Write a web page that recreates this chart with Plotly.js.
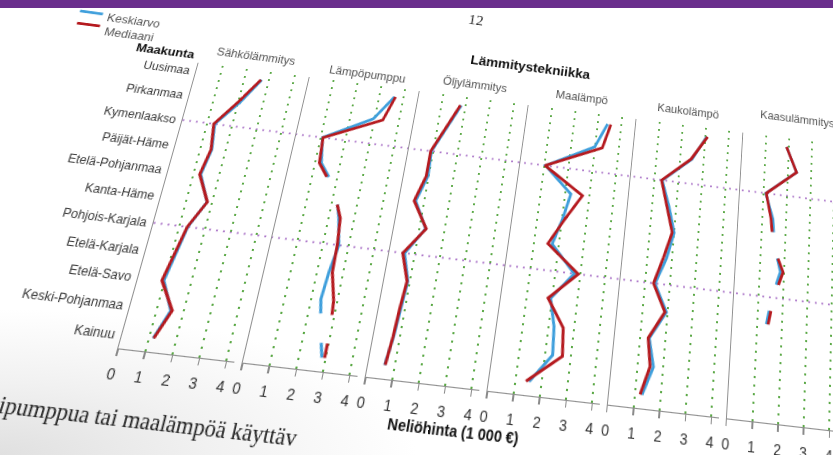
<!DOCTYPE html>
<html><head><meta charset="utf-8">
<script src="https://cdn.plot.ly/plotly-3.0.1.min.js"></script>
<style>
html,body{margin:0;padding:0;width:833px;height:455px;overflow:hidden;background:#fff;}
#bg{position:absolute;left:0;top:0;width:833px;height:455px;background:radial-gradient(ellipse 50% 32% at 0% 100%, #e0e0e0 0%, #f1f1f1 50%, rgba(255,255,255,0) 100%);}
#chart{position:absolute;left:0;top:0;width:950px;height:550px;transform-origin:0 0;}
#bar{position:absolute;left:0;top:0;width:833px;height:8px;background:#6a2e8c;}
</style></head><body>
<div id="bg"></div>
<div id="chart"></div>
<div id="bar"></div>
<script>
// ---------- data ----------
const regions = ['Uusimaa','Pirkanmaa','Kymenlaakso','Päijät-Häme','Etelä-Pohjanmaa','Kanta-Häme','Pohjois-Karjala','Etelä-Karjala','Etelä-Savo','Keski-Pohjanmaa','Kainuu'];
const heatTypes = ['Sähkölämmitys','Lämpöpumppu','Öljylämmitys','Maalämpö','Kaukolämpö','Kaasulämmitys'];
const xTicks = [0,1,2,3,4];
const seriesNames = ['Keskiarvo','Mediaani'];

const meanSahko   = [2.70,2.08,1.30,1.45,1.28,1.80,1.32,1.15,0.97,1.52,1.15];
const medianSahko = [2.67,2.00,1.26,1.42,1.24,1.81,1.30,1.11,0.90,1.57,1.17];

const meanLampopumppu   = [3.62,2.94,1.07,1.25,2.07,2.39,2.61,2.45,2.36,2.57,2.85];
const medianLampopumppu = [3.66,3.33,1.09,1.17,1.99,2.45,2.55,2.58,2.85,2.95,2.95];
const shownLampopumppu  = [1,1,1,1,0,1,1,1,1,0,1];

const meanOljy   = [1.82,1.38,0.93,0.97,0.66,1.25,0.60,0.92,0.83,0.76,0.62];
const medianOljy = [1.78,1.34,0.90,0.90,0.60,1.27,0.53,0.89,0.80,0.74,0.64];

const meanMaalampo   = [3.41,2.98,1.05,2.23,2.02,1.73,2.75,1.94,2.21,2.29,1.52];
const medianMaalampo = [3.55,3.30,1.03,2.71,2.11,1.56,2.91,1.84,2.57,2.67,1.40];

const meanKaukolampo   = [3.05,2.50,1.33,1.70,2.00,1.78,1.40,1.95,1.36,1.62,1.27];
const medianKaukolampo = [3.09,2.46,1.30,1.62,1.92,1.65,1.34,1.89,1.32,1.49,1.20];

const meanKaasu   = [1.90,2.37,1.10,1.45,1.55,1.85,1.55,1.37,null,null,null];
const medianKaasu = [1.90,2.37,1.12,1.37,1.50,1.96,1.62,1.44,null,null,null];
const shownKaasu  = [1,1,1,1,0,1,0,1,0,0,0];

// ---------- layout geometry (unskewed page) ----------
const DIVW=950, DIVH=550, ML=200, MR=38, MT=140, MB=120;
const PW=DIVW-ML-MR, PH=DIVH-MT-MB;
const XMAX=4.3, GAP=0.3;
const TOT=6*XMAX+5*GAP, DW=XMAX/TOT, DP=(XMAX+GAP)/TOT;
const YR=[10.47,-0.37];

// photo perspective: homography from page to screen
function solveH(src,dst){
  const A=[],b=[];
  for(let i=0;i<4;i++){const [x,y]=src[i],[X,Y]=dst[i];
    A.push([x,y,1,0,0,0,-x*X,-y*X]);b.push(X);
    A.push([0,0,0,x,y,1,-x*Y,-y*Y]);b.push(Y);}
  const n=8;
  for(let c=0;c<n;c++){let p=c;for(let r=c+1;r<n;r++)if(Math.abs(A[r][c])>Math.abs(A[p][c]))p=r;
    [A[c],A[p]]=[A[p],A[c]];[b[c],b[p]]=[b[p],b[c]];
    for(let r=0;r<n;r++){if(r===c)continue;const f=A[r][c]/A[c][c];for(let k=c;k<n;k++)A[r][k]-=f*A[c][k];b[r]-=f*b[c];}}
  const h=b.map((v,i)=>v/A[i][i]);
  return [[h[0],h[1],h[2]],[h[3],h[4],h[5]],[h[6],h[7],1]];
}
function inv3(m){const [a,b,c]=m[0],[d,e,f]=m[1],[g,h,i]=m[2];
  const A=e*i-f*h,B=-(d*i-f*g),C=d*h-e*g,D=-(b*i-c*h),E=a*i-c*g,F=-(a*h-b*g),G=b*f-c*e,Hh=-(a*f-c*d),I=a*e-b*d;
  const det=a*A+b*B+c*C;
  return [[A/det,D/det,G/det],[B/det,E/det,Hh/det],[C/det,F/det,I/det]];}
function applyH(m,x,y){const w=m[2][0]*x+m[2][1]*y+m[2][2];return [(m[0][0]*x+m[0][1]*y+m[0][2])/w,(m[1][0]*x+m[1][1]*y+m[1][2])/w];}

const kyFrac=(2-YR[1])/(YR[0]-YR[1]);
const uKy=MT+kyFrac*PH, uBot=MT+PH, u6=ML+5*DP*PW;
const H=solveH([[ML,uKy],[ML,uBot],[u6,uBot],[u6,uKy]],
               [[182.5,120],[118.3,348.3],[726.7,418.3],[739.8,190]]);
const Hi=inv3(H);
function scr(X,Y){const [ux,uy]=applyH(Hi,X,Y);return [(ux-ML)/PW,(MT+PH-uy)/PH];}

// ---------- traces ----------
const panels=[
  {mean:meanSahko,median:medianSahko,shown:null},
  {mean:meanLampopumppu,median:medianLampopumppu,shown:shownLampopumppu},
  {mean:meanOljy,median:medianOljy,shown:null},
  {mean:meanMaalampo,median:medianMaalampo,shown:null},
  {mean:meanKaukolampo,median:medianKaukolampo,shown:null},
  {mean:meanKaasu,median:medianKaasu,shown:shownKaasu}
];
function pieces(vals,shown){
  const xs=[],ys=[],n=vals.length;
  const has=i=>i>=0&&i<n&&vals[i]!=null;
  const vis=i=>has(i)&&(!shown||shown[i]===1);
  for(let i=0;i<n;i++){
    if(!vis(i))continue;
    if(has(i-1)&&!vis(i-1)){xs.push((vals[i-1]+vals[i])/2);ys.push(i-0.5);}
    xs.push(vals[i]);ys.push(i);
    if(has(i+1)&&!vis(i+1)){xs.push((vals[i]+vals[i+1])/2);ys.push(i+0.5);xs.push(null);ys.push(null);}
    else if(!has(i+1)){xs.push(null);ys.push(null);}
  }
  return {xs,ys};
}
const BLUE='#3f9fdc', RED='#b51a1f';
const traces=[];
panels.forEach((p,k)=>{
  const xa=k?'x'+(k+1):'x', ya=k?'y'+(k+1):'y';
  [[p.mean,BLUE,seriesNames[0]],[p.median,RED,seriesNames[1]]].forEach(([v,c,nm])=>{
    const s=pieces(v,p.shown);
    traces.push({x:s.xs,y:s.ys,xaxis:xa,yaxis:ya,type:'scatter',mode:'lines',name:nm,
      connectgaps:false,showlegend:false,hoverinfo:'skip',line:{color:c,width:3}});
  });
});

// ---------- layout ----------
const FONT='Liberation Sans, Arial, sans-serif';
const layout={width:DIVW,height:DIVH,autosize:false,
  margin:{l:ML,r:MR,t:MT,b:MB,pad:0},
  paper_bgcolor:'rgba(0,0,0,0)',plot_bgcolor:'rgba(0,0,0,0)',
  font:{family:FONT,color:'#333'},showlegend:false,shapes:[],annotations:[]};
for(let k=0;k<6;k++){
  const sx=k?String(k+1):'';
  layout['xaxis'+sx]={domain:[k*DP,k*DP+DW],range:[0,XMAX],anchor:'y'+sx,
    tickvals:xTicks,ticktext:xTicks.map(String),ticks:'outside',ticklen:6,tickwidth:1.2,tickcolor:'#8a8a8a',
    showline:true,linecolor:'#8f8f8f',linewidth:1.3,showgrid:true,gridcolor:'#5aa845',gridwidth:2.2,
    griddash:'2px,6px',zeroline:false,tickfont:{size:14,color:'#333'},ticklabelstandoff:4,fixedrange:true};
  layout['yaxis'+sx]={domain:[0,1],range:YR,anchor:'x'+sx,tickvals:regions.map((r,i)=>i),ticktext:regions,
    showticklabels:k===0,ticks:'',showline:true,linecolor:'#8f8f8f',linewidth:1.3,showgrid:false,zeroline:false,
    tickfont:{size:12.5,color:'#3a3a3a'},ticklabelstandoff:3,fixedrange:true};
}
// purple reference lines (Kymenlaakso, Pohjois-Karjala)
[2,6].forEach(r=>layout.shapes.push({type:'line',xref:'paper',yref:'y',x0:0,x1:1.06,y0:r,y1:r,layer:'below',
  line:{color:'#ad78c9',width:1.6,dash:'2px,5px'}}));
// legend drawn as on the page
function segShape(a,b,c){const p=scr(a[0],a[1]),q=scr(b[0],b[1]);
  layout.shapes.push({type:'line',xref:'paper',yref:'paper',x0:p[0],y0:p[1],x1:q[0],y1:q[1],line:{color:c,width:3}});}
segShape([80,11],[103,14],BLUE);
segShape([77,23],[100,26],RED);
function txt(t,X,Y,opt){const p=scr(X,Y);
  layout.annotations.push(Object.assign({text:t,xref:'paper',yref:'paper',x:p[0],y:p[1],showarrow:false,
    xanchor:'center',yanchor:'middle',font:{family:FONT,size:12.5,color:'#555'}},opt||{}));}
txt(seriesNames[0],105,17,{xanchor:'left',font:{family:FONT,size:13,color:'#555'}});
txt(seriesNames[1],103,31,{xanchor:'left',font:{family:FONT,size:13,color:'#555'}});
txt('12',476,20,{font:{family:'Liberation Serif, serif',size:17,color:'#333'}});
txt('<b>Maakunta</b>',166,51,{font:{family:FONT,size:13.5,color:'#111'}});
txt('<b>Lämmitystekniikka</b>',531,67,{font:{family:FONT,size:15,color:'#111'}});
const titlePos=[[256,57],[367,74],[475,85],[582,98],[688,111],[797,119]];
heatTypes.forEach((t,k)=>txt(t,titlePos[k][0],titlePos[k][1],{font:{family:FONT,size:12.5,color:'#555'}}));
txt('<b>Neliöhinta (1 000 €)</b>',454,431,{font:{family:FONT,size:14,color:'#111'}});
txt('ipumppua tai maalämpöä käyttäv',-3,404,{xanchor:'left',font:{family:'Liberation Serif, serif',size:21,color:'#222'}});

Plotly.newPlot('chart',traces,layout,{staticPlot:true,displayModeBar:false}).then(()=>{
  const m=H;
  document.getElementById('chart').style.transform=
    'matrix3d('+[m[0][0],m[1][0],0,m[2][0],m[0][1],m[1][1],0,m[2][1],0,0,1,0,m[0][2],m[1][2],0,m[2][2]].join(',')+')';
});
</script></body></html>
